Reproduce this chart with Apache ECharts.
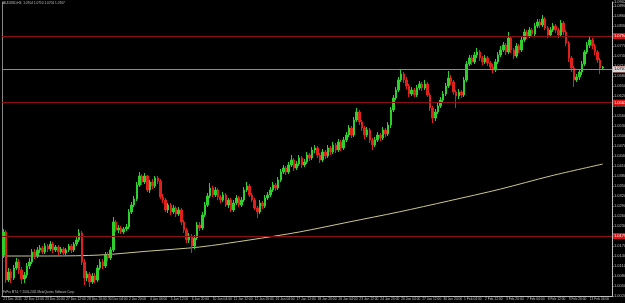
<!DOCTYPE html>
<html lang="en">
<head>
<meta charset="UTF-8">
<title>AUDUSD,H4</title>
<script src="https://cdn.jsdelivr.net/npm/echarts@6/dist/echarts.min.js"></script>
<style>html,body{margin:0;padding:0;background:#000;}</style>
</head>
<body>
<div id="main" style="width:625px;height:303px;"></div>
<script>
// H4 bars, each row is [open, close, low, high]
const ohlc = [
  [1.0143,1.0212,1.0134,1.0221],[1.0212,1.0068,1.0059,1.0218],[1.0068,1.0092,1.0062,1.0104],[1.0092,1.0074,1.0059,1.0101],
  [1.0074,1.0104,1.0068,1.0113],[1.0104,1.0122,1.0098,1.0134],[1.0122,1.0098,1.0086,1.0131],[1.0098,1.0071,1.0056,1.0107],
  [1.0071,1.0083,1.0059,1.0092],[1.0083,1.0110,1.0074,1.0119],[1.0110,1.0122,1.0101,1.0134],[1.0122,1.0152,1.0116,1.0161],
  [1.0152,1.0140,1.0131,1.0161],[1.0140,1.0158,1.0134,1.0167],[1.0158,1.0164,1.0149,1.0173],[1.0164,1.0152,1.0146,1.0170],
  [1.0152,1.0170,1.0146,1.0179],[1.0170,1.0161,1.0152,1.0176],[1.0161,1.0176,1.0155,1.0185],[1.0176,1.0158,1.0149,1.0182],
  [1.0158,1.0167,1.0152,1.0173],[1.0167,1.0152,1.0143,1.0173],[1.0152,1.0161,1.0146,1.0167],[1.0161,1.0149,1.0140,1.0167],
  [1.0149,1.0158,1.0143,1.0164],[1.0158,1.0170,1.0152,1.0176],[1.0170,1.0158,1.0149,1.0176],[1.0158,1.0176,1.0152,1.0182],
  [1.0176,1.0188,1.0170,1.0197],[1.0188,1.0209,1.0182,1.0221],[1.0209,1.0122,1.0113,1.0215],[1.0122,1.0074,1.0053,1.0131],
  [1.0074,1.0086,1.0065,1.0095],[1.0086,1.0062,1.0047,1.0092],[1.0062,1.0080,1.0056,1.0089],[1.0080,1.0068,1.0059,1.0089],
  [1.0068,1.0104,1.0062,1.0113],[1.0104,1.0122,1.0098,1.0131],[1.0122,1.0110,1.0101,1.0131],[1.0110,1.0143,1.0104,1.0152],
  [1.0143,1.0134,1.0125,1.0152],[1.0134,1.0158,1.0128,1.0167],[1.0158,1.0242,1.0152,1.0257],[1.0242,1.0218,1.0212,1.0248],
  [1.0218,1.0224,1.0209,1.0233],[1.0224,1.0212,1.0206,1.0230],[1.0212,1.0221,1.0206,1.0227],[1.0221,1.0227,1.0215,1.0236],
  [1.0227,1.0272,1.0221,1.0281],[1.0272,1.0293,1.0266,1.0302],[1.0293,1.0311,1.0287,1.0320],[1.0311,1.0353,1.0305,1.0362],
  [1.0353,1.0380,1.0347,1.0392],[1.0380,1.0362,1.0353,1.0386],[1.0362,1.0380,1.0356,1.0389],[1.0380,1.0338,1.0332,1.0383],
  [1.0338,1.0362,1.0329,1.0368],[1.0362,1.0350,1.0341,1.0371],[1.0350,1.0374,1.0344,1.0380],[1.0374,1.0365,1.0356,1.0380],
  [1.0365,1.0317,1.0311,1.0371],[1.0317,1.0308,1.0299,1.0326],[1.0308,1.0278,1.0272,1.0314],[1.0278,1.0293,1.0269,1.0299],
  [1.0293,1.0272,1.0263,1.0299],[1.0272,1.0284,1.0266,1.0293],[1.0284,1.0266,1.0257,1.0290],[1.0266,1.0278,1.0260,1.0287],
  [1.0278,1.0242,1.0233,1.0284],[1.0242,1.0218,1.0209,1.0248],[1.0218,1.0188,1.0179,1.0224],[1.0188,1.0200,1.0179,1.0209],
  [1.0200,1.0170,1.0149,1.0206],[1.0170,1.0194,1.0161,1.0203],[1.0194,1.0233,1.0188,1.0242],[1.0233,1.0224,1.0215,1.0242],
  [1.0224,1.0263,1.0218,1.0272],[1.0263,1.0293,1.0257,1.0302],[1.0293,1.0320,1.0287,1.0329],[1.0320,1.0344,1.0314,1.0359],
  [1.0344,1.0323,1.0317,1.0350],[1.0323,1.0338,1.0317,1.0347],[1.0338,1.0317,1.0308,1.0344],[1.0317,1.0308,1.0299,1.0323],
  [1.0308,1.0323,1.0302,1.0332],[1.0323,1.0293,1.0287,1.0329],[1.0293,1.0308,1.0284,1.0314],[1.0308,1.0278,1.0272,1.0314],
  [1.0278,1.0299,1.0272,1.0308],[1.0299,1.0314,1.0293,1.0323],[1.0314,1.0293,1.0287,1.0320],[1.0293,1.0308,1.0287,1.0317],
  [1.0308,1.0338,1.0302,1.0347],[1.0338,1.0350,1.0332,1.0362],[1.0350,1.0323,1.0317,1.0356],[1.0323,1.0308,1.0302,1.0329],
  [1.0308,1.0284,1.0278,1.0314],[1.0284,1.0272,1.0254,1.0290],[1.0272,1.0299,1.0266,1.0308],[1.0299,1.0290,1.0281,1.0305],
  [1.0290,1.0314,1.0284,1.0323],[1.0314,1.0323,1.0308,1.0332],[1.0323,1.0338,1.0317,1.0347],[1.0338,1.0353,1.0332,1.0362],
  [1.0353,1.0344,1.0335,1.0359],[1.0344,1.0368,1.0338,1.0377],[1.0368,1.0392,1.0362,1.0401],[1.0392,1.0404,1.0386,1.0413],
  [1.0404,1.0392,1.0383,1.0410],[1.0392,1.0413,1.0386,1.0422],[1.0413,1.0428,1.0407,1.0443],[1.0428,1.0404,1.0395,1.0434],
  [1.0404,1.0416,1.0398,1.0425],[1.0416,1.0434,1.0410,1.0443],[1.0434,1.0413,1.0404,1.0440],[1.0413,1.0422,1.0407,1.0431],
  [1.0422,1.0443,1.0416,1.0452],[1.0443,1.0434,1.0425,1.0449],[1.0434,1.0458,1.0428,1.0467],[1.0458,1.0464,1.0449,1.0473],
  [1.0464,1.0443,1.0434,1.0470],[1.0443,1.0428,1.0419,1.0449],[1.0428,1.0452,1.0422,1.0461],[1.0452,1.0440,1.0431,1.0458],
  [1.0440,1.0464,1.0434,1.0473],[1.0464,1.0452,1.0443,1.0470],[1.0452,1.0473,1.0446,1.0482],[1.0473,1.0458,1.0449,1.0479],
  [1.0458,1.0482,1.0452,1.0491],[1.0482,1.0464,1.0455,1.0488],[1.0464,1.0488,1.0458,1.0497],[1.0488,1.0503,1.0482,1.0512],
  [1.0503,1.0524,1.0497,1.0533],[1.0524,1.0503,1.0494,1.0530],[1.0503,1.0548,1.0497,1.0557],[1.0548,1.0572,1.0542,1.0584],
  [1.0572,1.0542,1.0533,1.0578],[1.0542,1.0524,1.0515,1.0548],[1.0524,1.0503,1.0491,1.0530],[1.0503,1.0518,1.0497,1.0527],
  [1.0518,1.0488,1.0479,1.0524],[1.0488,1.0473,1.0458,1.0494],[1.0473,1.0488,1.0467,1.0497],[1.0488,1.0503,1.0482,1.0512],
  [1.0503,1.0494,1.0485,1.0509],[1.0494,1.0518,1.0488,1.0527],[1.0518,1.0506,1.0497,1.0524],[1.0506,1.0533,1.0500,1.0542],
  [1.0533,1.0578,1.0524,1.0587],[1.0578,1.0614,1.0572,1.0623],[1.0614,1.0638,1.0608,1.0647],[1.0638,1.0668,1.0632,1.0677],
  [1.0668,1.0686,1.0662,1.0701],[1.0686,1.0668,1.0659,1.0692],[1.0668,1.0650,1.0641,1.0677],[1.0650,1.0626,1.0617,1.0656],
  [1.0626,1.0638,1.0620,1.0647],[1.0638,1.0623,1.0617,1.0644],[1.0623,1.0644,1.0617,1.0653],[1.0644,1.0656,1.0638,1.0665],
  [1.0656,1.0644,1.0635,1.0662],[1.0644,1.0656,1.0638,1.0668],[1.0656,1.0623,1.0617,1.0662],[1.0623,1.0584,1.0575,1.0629],
  [1.0584,1.0554,1.0539,1.0590],[1.0554,1.0572,1.0545,1.0581],[1.0572,1.0590,1.0566,1.0599],[1.0590,1.0608,1.0584,1.0617],
  [1.0608,1.0626,1.0602,1.0635],[1.0626,1.0650,1.0620,1.0659],[1.0650,1.0674,1.0644,1.0695],[1.0674,1.0662,1.0653,1.0683],
  [1.0662,1.0632,1.0623,1.0668],[1.0632,1.0620,1.0584,1.0638],[1.0620,1.0632,1.0611,1.0641],[1.0632,1.0623,1.0614,1.0638],
  [1.0623,1.0668,1.0617,1.0677],[1.0668,1.0716,1.0662,1.0725],[1.0716,1.0734,1.0710,1.0743],[1.0734,1.0722,1.0713,1.0743],
  [1.0722,1.0743,1.0716,1.0752],[1.0743,1.0752,1.0734,1.0764],[1.0752,1.0734,1.0725,1.0758],[1.0734,1.0722,1.0713,1.0740],
  [1.0722,1.0734,1.0716,1.0743],[1.0734,1.0719,1.0710,1.0740],[1.0719,1.0707,1.0698,1.0725],[1.0707,1.0698,1.0689,1.0716],
  [1.0698,1.0722,1.0692,1.0731],[1.0722,1.0743,1.0716,1.0752],[1.0743,1.0758,1.0737,1.0770],[1.0758,1.0773,1.0752,1.0782],
  [1.0773,1.0752,1.0743,1.0779],[1.0752,1.0794,1.0746,1.0812],[1.0794,1.0758,1.0749,1.0800],[1.0758,1.0740,1.0731,1.0764],
  [1.0740,1.0770,1.0734,1.0779],[1.0770,1.0758,1.0749,1.0776],[1.0758,1.0788,1.0752,1.0797],[1.0788,1.0812,1.0782,1.0821],
  [1.0812,1.0800,1.0791,1.0818],[1.0800,1.0818,1.0794,1.0827],[1.0818,1.0806,1.0797,1.0824],[1.0806,1.0830,1.0800,1.0839],
  [1.0830,1.0842,1.0824,1.0851],[1.0842,1.0833,1.0824,1.0851],[1.0833,1.0851,1.0827,1.0863],[1.0851,1.0824,1.0818,1.0857],
  [1.0824,1.0803,1.0794,1.0830],[1.0803,1.0818,1.0797,1.0827],[1.0818,1.0830,1.0812,1.0839],[1.0830,1.0818,1.0809,1.0836],
  [1.0818,1.0803,1.0794,1.0824],[1.0803,1.0839,1.0797,1.0848],[1.0839,1.0812,1.0803,1.0845],[1.0812,1.0779,1.0770,1.0818],
  [1.0779,1.0734,1.0722,1.0785],[1.0734,1.0704,1.0692,1.0740],[1.0704,1.0668,1.0647,1.0710],[1.0668,1.0677,1.0662,1.0686],
  [1.0677,1.0692,1.0668,1.0698],[1.0692,1.0716,1.0683,1.0725],[1.0716,1.0752,1.0710,1.0758],[1.0752,1.0773,1.0746,1.0782],
  [1.0773,1.0788,1.0764,1.0797],[1.0788,1.0770,1.0761,1.0794],[1.0770,1.0752,1.0743,1.0776],[1.0752,1.0728,1.0719,1.0758],
  [1.0728,1.0704,1.0686,1.0734],[1.0704,1.0707,1.0701,1.0710]
];

// moving average, sampled at these bar indices
const maBars = [0, 18, 37, 56, 75, 94, 113, 132, 151, 170, 190, 209, 229];
const maValues = [1.0140, 1.0140, 1.0143, 1.0155, 1.0167, 1.0188, 1.0212, 1.0242, 1.0272, 1.0305, 1.0341, 1.0380, 1.0416];

// horizontal levels drawn in red
const levels = [1.0794, 1.0692, 1.0563, 1.0179];

// time labels, one every 8 bars
const dateLabels = ['21 Dec 2011', '22 Dec 12:00', '23 Dec 20:00', '27 Dec 12:00', '28 Dec 20:00', '30 Dec 04:00',
  '2 Jan 20:00', '4 Jan 04:00', '5 Jan 12:00', '6 Jan 20:00', '10 Jan 04:00', '11 Jan 12:00', '12 Jan 20:00',
  '16 Jan 04:00', '17 Jan 12:00', '18 Jan 20:00', '20 Jan 04:00', '23 Jan 12:00', '24 Jan 20:00', '26 Jan 04:00',
  '27 Jan 12:00', '30 Jan 20:00', '1 Feb 04:00', '2 Feb 12:00', '3 Feb 20:00', '7 Feb 04:00', '8 Feb 12:00',
  '9 Feb 20:00', '13 Feb 04:00'];

const shiftBars = 3; // empty space right of the last bar
const slots = [];
for (let i = 0; i < ohlc.length + shiftBars; i++) slots.push(String(i));

const last = ohlc[ohlc.length - 1];
const header = 'AUDUSD,H4  ' + [last[0], last[3], last[2], last[1]].map(v => v.toFixed(4)).join(' ');
const font = 'Liberation Sans';
const grey = '#c0c0c0';

let chart = echarts.init(document.getElementById('main'));
chart.setOption({
  backgroundColor: '#000',
  animation: false,
  textStyle: { fontFamily: font },
  title: [
    { text: header, left: 3, top: 2, padding: 0, textStyle: { color: grey, fontSize: 3.2, fontWeight: 'normal', fontFamily: font } },
    { text: 'FxPro MT4, \u00a9 2001-2011 MetaQuotes Software Corp.', left: 3, top: 291, padding: 0,
      textStyle: { color: grey, fontSize: 3, fontWeight: 'normal', fontFamily: font } }
  ],
  grid: { left: 2, right: 13, top: 2, bottom: 7, outerBoundsMode: 'none', containLabel: false },
  xAxis: {
    type: 'category',
    data: slots,
    boundaryGap: true,
    axisLine: { lineStyle: { color: grey, width: 1 } },
    axisTick: { interval: i => i % 8 === 0, length: 2, lineStyle: { color: grey } },
    axisLabel: {
      interval: i => i % 8 === 0,
      formatter: (v, i) => dateLabels[i / 8] || '',
      color: grey, fontSize: 3.3, margin: 1.5, align: 'left', fontFamily: font
    },
    splitLine: { show: false }
  },
  yAxis: [
    {
      type: 'value',
      position: 'right',
      min: 1.0020, max: 1.0902, interval: 0.003,
      axisLine: { show: true, lineStyle: { color: grey } },
      axisTick: { show: true, length: 1.5, lineStyle: { color: grey } },
      axisLabel: { color: grey, fontSize: 4, margin: 2, formatter: v => v.toFixed(4), fontFamily: font },
      splitLine: { show: false }
    },
    {
      type: 'value',
      position: 'left',
      min: 1.0020, max: 1.0902,
      axisLine: { show: true, lineStyle: { color: '#888' } },
      axisTick: { show: false }, axisLabel: { show: false }, splitLine: { show: false }
    }
  ],
  series: [
    {
      type: 'line',
      data: maBars.map((b, i) => [b, maValues[i]]),
      smooth: 0.3,
      showSymbol: false,
      lineStyle: { color: '#cdc78e', width: 1 },
      z: 1
    },
    {
      type: 'candlestick',
      data: ohlc,
      barWidth: 2,
      itemStyle: { color: '#2ed02e', color0: '#e0201a', borderColor: '#2ed02e', borderColor0: '#e0201a', borderWidth: 1 },
      z: 2,
      markLine: {
        symbol: 'none', silent: true,
        data: levels.map(v => ({
          yAxis: v,
          lineStyle: { color: '#8c1010', width: 1, type: 'solid' },
          label: { position: 'end', distance: 1, formatter: () => v.toFixed(4), color: '#fff', fontSize: 4,
            backgroundColor: '#e01010', padding: [1, 1] }
        })).concat([{
          yAxis: last[1],
          lineStyle: { color: '#8c8c8c', width: 1, type: 'solid' },
          label: { position: 'end', distance: 1, formatter: () => last[1].toFixed(4), color: '#000', fontSize: 4,
            backgroundColor: '#d8d8d8', padding: [1, 1] }
        }])
      }
    }
  ]
});
</script>
</body>
</html>
